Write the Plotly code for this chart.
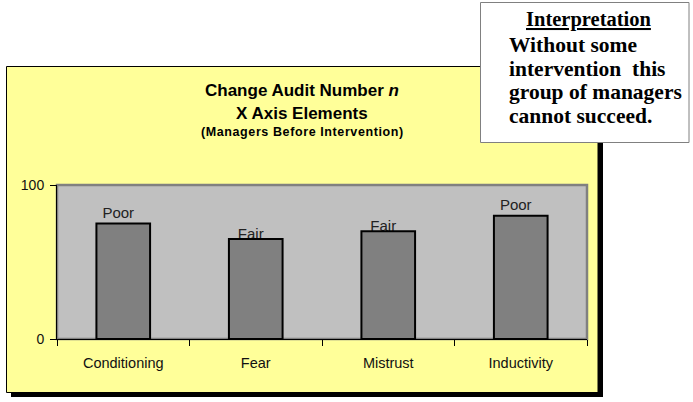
import plotly.graph_objects as go

# ---- data ----
categories = ["Conditioning", "Fear", "Mistrust", "Inductivity"]
scores = [75, 65, 70, 80]
ratings = ["Poor", "Fair", "Fair", "Poor"]
y_ticks = [0, 100]
y_tick_labels = ["0", "100"]

title_lines = ["Change Audit Number <i>n</i>", "X Axis Elements", "(Managers Before Intervention)"]
note_heading = "Interpretation"
note_lines = ["Without some", "intervention\u00a0 this", "group of managers", "cannot succeed."]

# ---- geometry (pixels) ----
W, H = 693, 402
L, R, T, B = 57, 106, 185, 63
PW = W - L - R
PH = H - T - B


def px2x(px):
    return (px - L) / PW


def px2y(py):
    return (H - B - py) / PH


SANS = "Liberation Sans, Arial, sans-serif"
SERIF = "Liberation Serif, Times New Roman, serif"

# vertical drop of rating labels (style), in value units
label_drop = {"Poor": 0.0, "Fair": -4.0}
label_heights = [v + label_drop[r] for v, r in zip(scores, ratings)]

fig = go.Figure()
# invisible carrier for the rating labels (drawn beneath the real bars)
fig.add_trace(go.Bar(
    x=categories, y=label_heights, text=ratings, textposition="outside",
    cliponaxis=False, width=0.405, offset=-0.24,
    marker=dict(color="rgba(0,0,0,0)", line=dict(width=0)),
    textfont=dict(family=SANS, size=15, color="#222222"),
    hoverinfo="skip", showlegend=False,
))
fig.add_trace(go.Bar(
    x=categories, y=scores, width=0.405,
    marker=dict(color="#808080", line=dict(color="black", width=2)),
    showlegend=False,
))

shapes = [
    # shadow of the yellow chart box
    dict(type="rect", xref="paper", yref="paper", layer="below",
         x0=px2x(11), x1=px2x(603), y0=px2y(71), y1=px2y(397),
         fillcolor="black", line=dict(width=0)),
    # yellow chart box
    dict(type="rect", xref="paper", yref="paper", layer="below",
         x0=px2x(6.5), x1=px2x(598), y0=px2y(66.5), y1=px2y(392.5),
         fillcolor="#FFFF99", line=dict(color="black", width=1)),
    # interpretation box
    dict(type="rect", xref="paper", yref="paper", layer="below",
         x0=px2x(480.5), x1=px2x(689), y0=px2y(2.5), y1=px2y(142.5),
         fillcolor="white", line=dict(color="#808080", width=1)),
    # grey plot area with darker frame
    dict(type="rect", xref="x domain", yref="y domain", layer="below",
         x0=0, x1=1, y0=0, y1=1, fillcolor="#C0C0C0",
         line=dict(color="#808080", width=2.5)),
]

annotations = []
title_y = [91, 114, 132]
title_sizes = [17, 17, 12.5]
for txt, yy, sz in zip(title_lines, title_y, title_sizes):
    annotations.append(dict(
        xref="paper", yref="paper", x=px2x(302), y=px2y(yy),
        xanchor="center", yanchor="middle", showarrow=False,
        text="<b>" + txt + "</b>" if sz > 13 else
        "<b><span style='letter-spacing:0.6px'>" + txt + "</span></b>",
        font=dict(family=SANS, size=sz, color="black"),
    ))

annotations.append(dict(
    xref="paper", yref="paper", x=px2x(588), y=px2y(20),
    xanchor="center", yanchor="middle", showarrow=False,
    text="<b>" + note_heading + "</b>",
    font=dict(family=SERIF, size=20.5, color="black", lineposition="under"),
))
for i, line in enumerate(note_lines):
    annotations.append(dict(
        xref="paper", yref="paper", x=px2x(507), y=px2y(45 + 23.7 * i),
        xanchor="left", yanchor="middle", showarrow=False,
        text="<b>" + line + "</b>",
        font=dict(family=SERIF, size=21.5, color="black"),
    ))

fig.update_layout(
    width=W, height=H,
    margin=dict(l=L, r=R, t=T, b=B, pad=0),
    paper_bgcolor="white", plot_bgcolor="#C0C0C0",
    barmode="overlay",
    shapes=shapes, annotations=annotations,
    xaxis=dict(
        type="category", range=[-0.5, 3.5], tickson="boundaries",
        ticks="outside", ticklen=6, tickcolor="black", tickwidth=1,
        showline=True, linecolor="black", linewidth=1,
        showgrid=False, zeroline=False, ticklabelstandoff=11,
        tickfont=dict(family=SANS, size=14.5, color="#111111"),
    ),
    yaxis=dict(
        range=[0, 100], tickvals=y_ticks, ticktext=y_tick_labels,
        ticks="outside", ticklen=6, tickcolor="black", tickwidth=1,
        showline=True, linecolor="black", linewidth=1,
        showgrid=False, zeroline=False, ticklabelstandoff=3,
        tickfont=dict(family=SANS, size=14, color="#111111"),
    ),
)

fig.write_html("out.html", config={"displayModeBar": False},
               post_script="document.body.style.margin='0';")
